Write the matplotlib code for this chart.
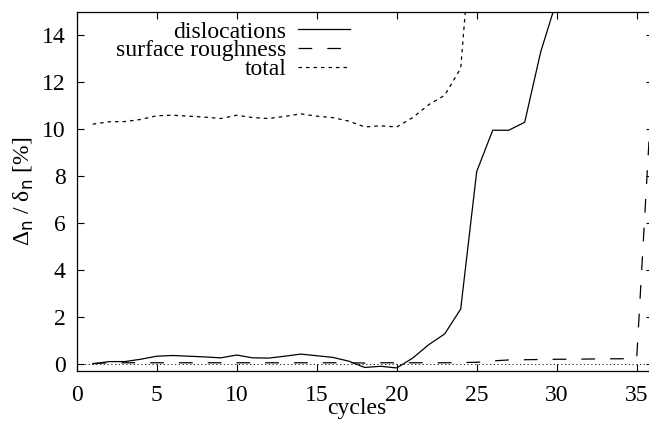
import numpy as np
import matplotlib
matplotlib.use("Agg")
import matplotlib.pyplot as plt

plt.rcParams['font.family'] = ['Liberation Serif', 'DejaVu Serif']
plt.rcParams['font.size'] = 17

# cycles and contributions to the relative broadening [%]
cycles = [1, 2, 3, 4, 5, 6, 7, 8, 9, 10, 11, 12, 13, 14, 15, 16, 17, 18,
          19, 20, 21, 22, 23, 24, 25, 26, 27, 28, 29, 30, 31]
dislocations = [0.0, 0.1, 0.1, 0.2, 0.33, 0.36, 0.33, 0.3, 0.26, 0.38, 0.26,
                0.25, 0.33, 0.42, 0.35, 0.28, 0.12, -0.15, -0.1, -0.17, 0.25,
                0.82, 1.28, 2.34, 8.2, 9.96, 9.96, 10.3, 13.3, 15.5, 18.0]

rough_cycles = [1, 2, 3, 4, 5, 6, 7, 8, 9, 10, 11, 12, 13, 14, 15, 16, 17,
                18, 19, 20, 21, 22, 23, 24, 25, 26, 27, 28, 29, 30, 31, 32,
                33, 34, 35, 36]
roughness = [0.02, 0.05, 0.05, 0.05, 0.05, 0.05, 0.05, 0.05, 0.05, 0.05,
             0.05, 0.05, 0.05, 0.05, 0.05, 0.05, 0.05, 0.04, 0.05, 0.05,
             0.05, 0.05, 0.05, 0.06, 0.07, 0.13, 0.17, 0.18, 0.19, 0.2,
             0.2, 0.21, 0.22, 0.22, 0.24, 12.3]

total_cycles = [1, 2, 3, 4, 5, 6, 7, 8, 9, 10, 11, 12, 13, 14, 15, 16, 17,
                18, 19, 20, 21, 22, 23, 24, 25]
total = [10.22, 10.32, 10.33, 10.42, 10.58, 10.6, 10.56, 10.52, 10.46,
         10.6, 10.5, 10.46, 10.55, 10.66, 10.56, 10.5, 10.35, 10.1, 10.15,
         10.1, 10.5, 11.05, 11.45, 12.6, 21.0]

xticks = [0, 5, 10, 15, 20, 25, 30, 35]
yticks = [0, 2, 4, 6, 8, 10, 12, 14]

fig = plt.figure(figsize=(6.49, 4.21), dpi=100)
ax = fig.add_axes([0.1182, 0.1188, 0.8875, 0.8527])

# dotted zero axis
ax.axhline(0, color='black', lw=0.6, linestyle=(0, (1.5, 3)))
ax.plot(cycles, dislocations, color='black', lw=0.9, label='dislocations')
ax.plot(rough_cycles, roughness, color='black', lw=0.9,
        linestyle=(0, (11, 12)), label='surface roughness')
ax.plot(total_cycles, total, color='black', lw=0.9,
        linestyle=(0, (2.8, 3.2)), label='total')

ax.set_xlim(0, 36)
ax.set_ylim(-0.3, 15)
ax.set_xticks(xticks)
ax.set_yticks(yticks)
ax.tick_params(direction='in', length=5, width=0.8, top=True, right=True)
ax.tick_params(axis='x', pad=10)
ax.tick_params(axis='y', pad=8)
for s in ax.spines.values():
    s.set_linewidth(0.9)

ax.set_ylabel('Δ$_\\mathrm{n}$ / δ$_\\mathrm{n}$ [%]', labelpad=4)
ax.set_xlabel('cycles')
ax.xaxis.set_label_coords(0.487, -0.075)

ax.legend(loc='upper right', bbox_to_anchor=(0.475, 0.975), markerfirst=False,
          frameon=False, handlelength=2.2, labelspacing=-0.12,
          borderaxespad=0.0, borderpad=0.0, handletextpad=0.5)

fig.savefig('out.png', dpi=100)
